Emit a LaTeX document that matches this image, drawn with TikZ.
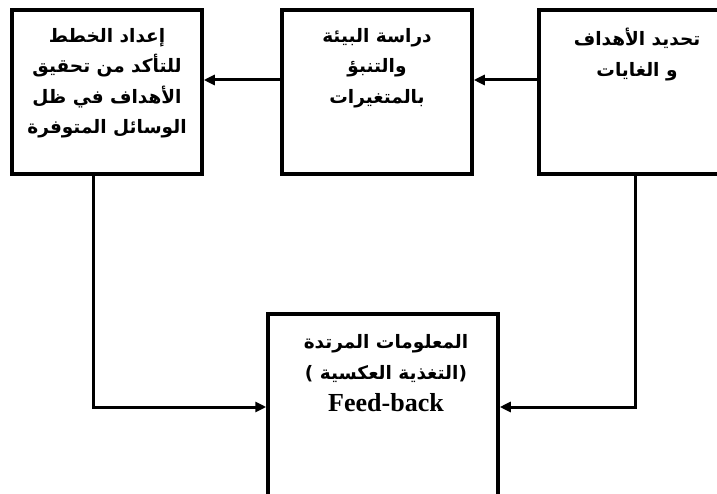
\documentclass[tikz,border=0pt]{standalone}
\usepackage{fontspec}
\setmainfont{Liberation Serif}
\newfontfamily\arabicfont[Script=Arabic]{DejaVu Sans}
\newfontfamily\parenfont{DejaVu Sans}
\TeXXeTstate=1
\usetikzlibrary{arrows.meta}
\newcommand{\artxt}[1]{{\arabicfont\bfseries\beginR #1\endR}}
\begin{document}
\begin{tikzpicture}[x=1pt,y=-1pt,
  box/.style={draw, line width=3.5pt, inner sep=0pt},
  txt/.style={align=center, anchor=north, inner sep=0pt, font=\fontsize{18.5}{30.5}\selectfont},
  conn/.style={line width=3pt, -{Triangle[length=11pt,width=10pt]}}]
\useasboundingbox (0,0) rectangle (717,494);
\clip (0,0) rectangle (717,494);
\node[box, minimum width=190pt, minimum height=164pt] (b1) at (107,92) {};
\node[box, minimum width=190pt, minimum height=164pt] (b2) at (377,92) {};
\node[box, minimum width=196pt, minimum height=164pt] (b3) at (637,92) {};
\node[box, minimum width=230pt, minimum height=206pt] (b4) at (383,417) {};
\node[txt] (t1) at (107,28) {\artxt{إعداد الخطط}\\ \artxt{للتأكد من تحقيق}\\ \artxt{الأهداف في ظل}\\ \artxt{الوسائل المتوفرة}};
\node[txt] (t2) at (377,28) {\artxt{دراسة البيئة}\\ \artxt{والتنبؤ}\\ \artxt{بالمتغيرات}};
\node[txt] (t3) at (637,28) {\artxt{تحديد الأهداف}\\ \artxt{و الغايات}};
\node[txt, font=\fontsize{18.5}{31.5}\selectfont] (t4) at (386,334) {\artxt{المعلومات المرتدة}\\ {\parenfont\bfseries( }\artxt{التغذية العكسية}{\parenfont\bfseries)}\\ {\bfseries\fontsize{26}{30}\selectfont Feed-back}};
\draw[conn] ([yshift=12pt]b3.west) -- ([yshift=12pt]b2.east);
\draw[conn] ([yshift=12pt]b2.west) -- ([yshift=12pt]b1.east);
\draw[conn] ([xshift=-14pt]b1.south) |- ([yshift=10pt]b4.west);
\draw[conn] ([xshift=-2pt]b3.south) |- ([yshift=10pt]b4.east);
\end{tikzpicture}
\end{document}
